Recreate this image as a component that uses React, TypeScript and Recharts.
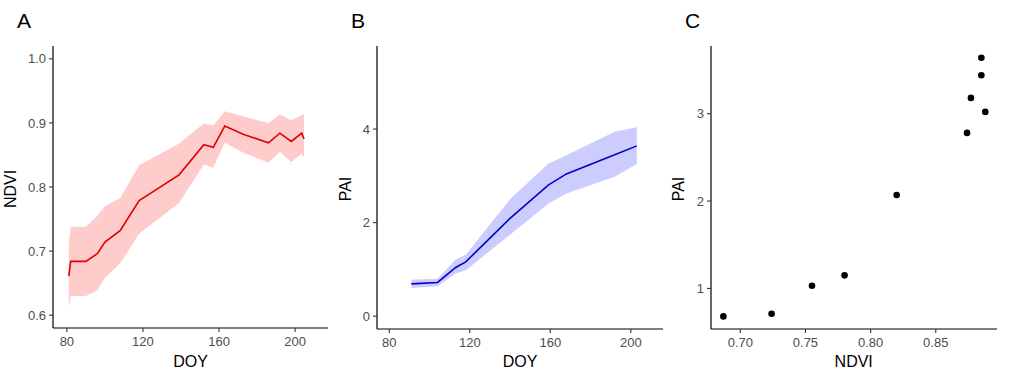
import React from "react";
import {
  ComposedChart,
  ScatterChart,
  Area,
  Line,
  Scatter,
  XAxis,
  YAxis,
} from "recharts";

// panel A: NDVI over day of year
const ndviDoy = [81, 82, 90, 96, 100, 108, 118, 139, 152, 157, 163, 173, 186, 192, 198, 203.5, 204.7];
const ndviMean = [0.661, 0.684, 0.684, 0.696, 0.714, 0.732, 0.779, 0.819, 0.866, 0.862, 0.895, 0.882, 0.869, 0.884, 0.871, 0.884, 0.875];
const ndviLow = [0.612, 0.63, 0.63, 0.639, 0.658, 0.681, 0.727, 0.775, 0.835, 0.83, 0.869, 0.853, 0.838, 0.855, 0.839, 0.852, 0.846];
const ndviHigh = [0.71, 0.738, 0.738, 0.755, 0.77, 0.783, 0.834, 0.868, 0.899, 0.896, 0.918, 0.91, 0.9, 0.913, 0.904, 0.912, 0.913];

// panel B: PAI over day of year
const paiDoy = [91, 104, 113, 118, 140, 159, 168, 192, 203];
const paiMean = [0.69, 0.72, 1.04, 1.16, 2.09, 2.8, 3.04, 3.45, 3.64];
const paiLow = [0.6, 0.64, 0.91, 0.98, 1.74, 2.4, 2.62, 2.98, 3.25];
const paiHigh = [0.78, 0.8, 1.21, 1.31, 2.5, 3.26, 3.44, 3.94, 4.04];

// panel C: PAI against NDVI
const scatterNdvi = [0.687, 0.724, 0.755, 0.78, 0.82, 0.874, 0.877, 0.885, 0.885, 0.888];
const scatterPai = [0.68, 0.71, 1.03, 1.15, 2.07, 2.78, 3.18, 3.64, 3.44, 3.02];

const doyTicks = [80, 120, 160, 200];
const ndviTicks = [0.6, 0.7, 0.8, 0.9, 1.0];
const paiTicks = [0, 2, 4];
const scatterXTicks = [0.7, 0.75, 0.8, 0.85];
const scatterYTicks = [1, 2, 3];

const FONT = '"Liberation Sans", Arial, Helvetica, sans-serif';
const tickStyle = { fill: "#4d4d4d", fontSize: 13, fontFamily: FONT };
const axisLine = { stroke: "#000", strokeWidth: 1.2 };
const tickLine = { stroke: "#333", strokeWidth: 1.1 };

const ndviData = ndviDoy.map((d, i) => ({
  doy: d,
  mean: ndviMean[i],
  range: [ndviLow[i], ndviHigh[i]],
}));

const paiData = paiDoy.map((d, i) => ({
  doy: d,
  mean: paiMean[i],
  range: [paiLow[i], paiHigh[i]],
}));

const scatterData = scatterNdvi.map((n, i) => ({ ndvi: n, pai: scatterPai[i] }));

function Title({ x, y, text, size = 16, rotate = false }: { x: number; y: number; text: string; size?: number; rotate?: boolean }) {
  return (
    <div
      style={{
        position: "absolute",
        left: x,
        top: y,
        transform: rotate ? "translate(-50%, -50%) rotate(-90deg)" : "translate(-50%, -50%)",
        fontFamily: FONT,
        fontSize: size,
        lineHeight: `${size}px`,
        color: "#000",
        whiteSpace: "nowrap",
      }}
    >
      {text}
    </div>
  );
}

function Letter({ x, text }: { x: number; text: string }) {
  return (
    <div
      style={{
        position: "absolute",
        left: x,
        top: 10,
        fontFamily: FONT,
        fontSize: 21,
        lineHeight: "21px",
        color: "#000",
      }}
    >
      {text}
    </div>
  );
}

function Dot(props: any) {
  return <circle cx={props.cx} cy={props.cy} r={3.3} fill="#000" />;
}

export default function App() {
  return (
    <div style={{ position: "absolute", left: 0, top: 0, width: 1024, height: 380, background: "#fff" }}>
      <div style={{ position: "absolute", left: 0, top: 0 }}>
        <ComposedChart width={340} height={380} data={ndviData} margin={{ top: 46, right: 12, bottom: 22, left: 20 }}>
          <XAxis
            type="number"
            dataKey="doy"
            domain={[72.7, 217.3]}
            allowDataOverflow
            ticks={doyTicks}
            height={30}
            tick={tickStyle}
            tickSize={4}
            tickMargin={5}
            axisLine={axisLine}
            tickLine={tickLine}
          />
          <YAxis
            type="number"
            domain={[0.58, 1.02]}
            allowDataOverflow
            ticks={ndviTicks}
            tickFormatter={(v: number) => v.toFixed(1)}
            width={33}
            tick={tickStyle}
            tickSize={4}
            tickMargin={3}
            axisLine={axisLine}
            tickLine={tickLine}
          />
          <Area dataKey="range" type="linear" fill="#ffcccc" fillOpacity={1} stroke="none" isAnimationActive={false} />
          <Line dataKey="mean" type="linear" stroke="#e00000" strokeWidth={1.6} dot={false} isAnimationActive={false} />
        </ComposedChart>
      </div>

      <div style={{ position: "absolute", left: 340, top: 0 }}>
        <ComposedChart width={330} height={380} data={paiData} margin={{ top: 46, right: 7, bottom: 21, left: 4 }}>
          <XAxis
            type="number"
            dataKey="doy"
            domain={[73.9, 216]}
            allowDataOverflow
            ticks={doyTicks}
            height={30}
            tick={tickStyle}
            tickSize={4}
            tickMargin={5}
            axisLine={axisLine}
            tickLine={tickLine}
          />
          <YAxis
            type="number"
            domain={[-0.275, 5.775]}
            allowDataOverflow
            ticks={paiTicks}
            width={33}
            tick={tickStyle}
            tickSize={4}
            tickMargin={3}
            axisLine={axisLine}
            tickLine={tickLine}
          />
          <Area dataKey="range" type="linear" fill="#ccccff" fillOpacity={1} stroke="none" isAnimationActive={false} />
          <Line dataKey="mean" type="linear" stroke="#0000cc" strokeWidth={1.6} dot={false} isAnimationActive={false} />
        </ComposedChart>
      </div>

      <div style={{ position: "absolute", left: 670, top: 0 }}>
        <ScatterChart width={354} height={380} margin={{ top: 46, right: 27, bottom: 21, left: 8 }}>
          <XAxis
            type="number"
            dataKey="ndvi"
            domain={[0.6775, 0.897]}
            allowDataOverflow
            ticks={scatterXTicks}
            tickFormatter={(v: number) => v.toFixed(2)}
            height={30}
            tick={tickStyle}
            tickSize={4}
            tickMargin={5}
            axisLine={axisLine}
            tickLine={tickLine}
          />
          <YAxis
            type="number"
            dataKey="pai"
            domain={[0.536, 3.774]}
            allowDataOverflow
            ticks={scatterYTicks}
            width={33}
            tick={tickStyle}
            tickSize={4}
            tickMargin={3}
            axisLine={axisLine}
            tickLine={tickLine}
          />
          <Scatter data={scatterData} shape={Dot} isAnimationActive={false} />
        </ScatterChart>
      </div>

      <Letter x={17} text="A" />
      <Letter x={351} text="B" />
      <Letter x={685} text="C" />

      <Title x={190.5} y={362} text="DOY" />
      <Title x={520} y={362} text="DOY" />
      <Title x={853.7} y={362} text="NDVI" />

      <Title x={11} y={189} text="NDVI" rotate />
      <Title x={346} y={189} text="PAI" rotate />
      <Title x={679} y={189} text="PAI" rotate />
    </div>
  );
}
